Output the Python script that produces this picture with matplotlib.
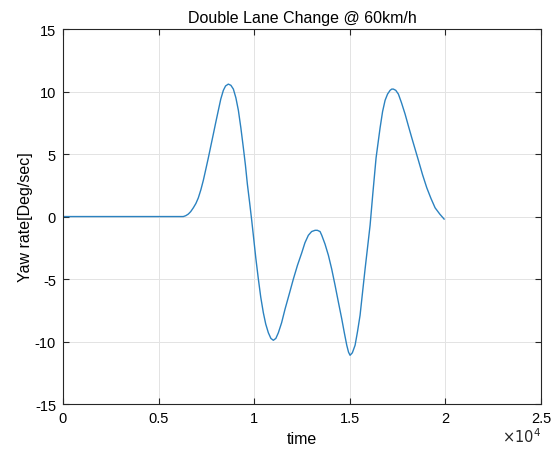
import matplotlib
matplotlib.use("Agg")
import matplotlib.pyplot as plt

plt.rcParams['font.family'] = ['Liberation Sans', 'DejaVu Sans']
plt.rcParams['axes.unicode_minus'] = False

time = [0, 2000, 4000, 6000, 6290, 6420, 6553, 6680, 6815, 6950, 7077, 7210, 7338,
        7470, 7600, 7730, 7861, 7990, 8123, 8250, 8385, 8500, 8646, 8780, 8908,
        9040, 9170, 9300, 9431, 9540, 9640, 9760, 9867, 9953, 10080, 10215,
        10340, 10476, 10600, 10738, 10870, 10999, 11130, 11260, 11430, 11611,
        11830, 12045, 12260, 12484, 12650, 12829, 13000, 13180, 13300, 13441,
        13530, 13700, 13877, 14050, 14226, 14400, 14577, 14710, 14838, 14930,
        15010, 15130, 15272, 15400, 15533, 15660, 15795, 15930, 16057, 16198,
        16370, 16580, 16710, 16841, 16970, 17103, 17190, 17275, 17400, 17537,
        17700, 17887, 18060, 18237, 18410, 18583, 18800, 19022, 19240, 19456,
        19700, 19927]
yaw_rate = [0, 0, 0, 0, 0.0, 0.07, 0.2, 0.4, 0.7, 1.05, 1.5, 2.15, 2.9,
            3.8, 4.7, 5.65, 6.6, 7.55, 8.5, 9.4, 10.1, 10.45, 10.6, 10.5, 10.2,
            9.5, 8.5, 7.1, 5.5, 4.1, 2.6, 1.1, -0.3, -1.5, -3.3, -5.0,
            -6.45, -7.7, -8.6, -9.3, -9.75, -9.9, -9.75, -9.3, -8.5, -7.4,
            -6.2, -5.0, -3.9, -2.9, -2.1, -1.5, -1.2, -1.1, -1.1, -1.2,
            -1.5, -2.2, -3.1, -4.2, -5.5, -6.85, -8.2, -9.3, -10.3, -10.85,
            -11.1, -10.9, -10.3, -9.2, -7.9, -6.1, -4.2, -2.4, -0.7, 1.8,
            4.7, 7.1, 8.4, 9.3, 9.8, 10.1, 10.2, 10.2, 10.1, 9.8,
            9.1, 8.2, 7.25, 6.3, 5.4, 4.5, 3.35, 2.3, 1.45, 0.7,
            0.2, -0.2]

xticks = [0, 5000, 10000, 15000, 20000, 25000]
xtick_labels = ['0', '0.5', '1', '1.5', '2', '2.5']
yticks = [-15, -10, -5, 0, 5, 10, 15]

fig = plt.figure(figsize=(5.55, 4.56), dpi=100)
ax = fig.add_axes([0.1135, 0.1118, 0.8615, 0.8222])
ax.plot(time, yaw_rate, color='#2b82c0', linewidth=1.0)

ax.set_xlim(0, 25000)
ax.set_ylim(-15, 15)
ax.set_xticks(xticks)
ax.set_xticklabels(xtick_labels)
ax.set_yticks(yticks)
ax.grid(True, color='#e3e3e3', linewidth=0.7)
ax.tick_params(direction='in', top=True, right=True, labelsize=10.5,
               length=4, color='#262626', pad=5)
for s in ax.spines.values():
    s.set_color('#262626')
    s.set_linewidth(0.8)

ax.set_title('Double Lane Change @ 60km/h', fontsize=11.5, pad=5)
ax.set_xlabel('time', fontsize=11.5, labelpad=4)
ax.set_ylabel('Yaw rate[Deg/sec]', fontsize=11.5, labelpad=1)
fig.text(0.975, 0.022, r'$\times10^4$', ha='right', va='bottom', fontsize=10.5,
         color='#262626')

fig.savefig('out.png', dpi=100)
